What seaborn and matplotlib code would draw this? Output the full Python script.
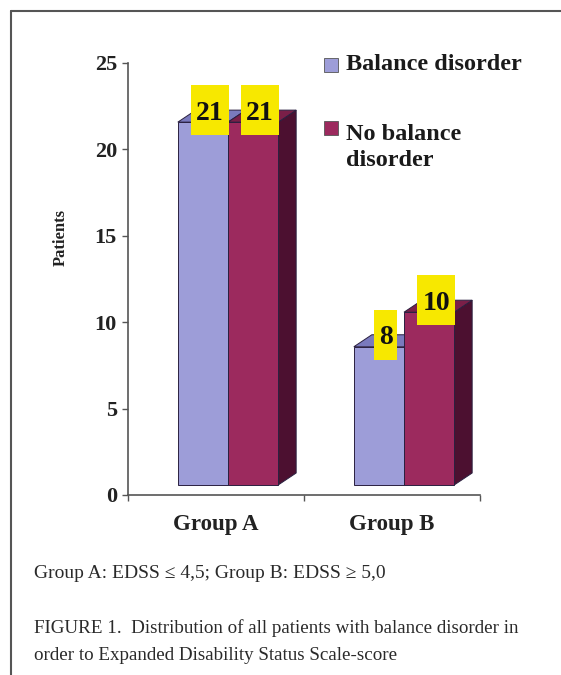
import matplotlib
matplotlib.use("Agg")
import pandas as pd
import matplotlib.pyplot as plt
import seaborn as sns
from matplotlib import transforms
from matplotlib.patches import Polygon, Rectangle

W, H, DPI = 561, 675, 100

# data
groups = ["Group A", "Group B"]
statuses = ["Balance disorder", "No balance disorder"]
balance_disorder = [21, 8]
no_balance_disorder = [21, 10]
legend_labels = ["Balance disorder", "No balance\ndisorder"]
yticks = [0, 5, 10, 15, 20, 25]
note = "Group A: EDSS \u2264 4,5; Group B: EDSS \u2265 5,0"
caption = ["FIGURE 1.  Distribution of all patients with balance disorder in",
           "order to Expanded Disability Status Scale-score"]

front_cols = ["#9d9dd8", "#9c2a5e"]
top_cols = ["#7a7abd", "#7a1f48"]
side_cols = ["#5e5e9c", "#4c1030"]

sns.set_style("white")
plt.rcParams["font.family"] = ["Liberation Serif", "DejaVu Serif"]

df = pd.DataFrame({
    "group": groups * 2,
    "status": [statuses[0]] * 2 + [statuses[1]] * 2,
    "patients": balance_disorder + no_balance_disorder,
})

def fx(px):
    return px / W

def fy(py):
    return 1 - py / H

fig = plt.figure(figsize=(W / DPI, H / DPI), dpi=DPI)
ax = fig.add_axes([fx(128), fy(495), (480 - 128) / W, (495 - 63) / H])

sns.barplot(df, x="group", y="patients", hue="status", order=groups,
            hue_order=statuses, palette=front_cols, width=0.57, saturation=1,
            edgecolor="#2a2040", linewidth=0.7, legend=False, ax=ax, zorder=3)
ax.set_xlim(-0.5, 1.5)
ax.set_ylim(0, 25)

# fake 3d: front faces shifted, depth faces behind
front = ax.transData + transforms.ScaledTranslation(12 / DPI, 10 / DPI, fig.dpi_scale_trans)
ppx = ax.transData.transform((1, 0))[0] - ax.transData.transform((0, 0))[0]
ppy = ax.transData.transform((0, 1))[1] - ax.transData.transform((0, 0))[1]
ddx, ddy = 18 / ppx, 12 / ppy

hex_front = [c.lower() for c in front_cols]
for p in list(ax.patches):
    k = hex_front.index(matplotlib.colors.to_hex(p.get_facecolor()))
    x0, w, h = p.get_x(), p.get_width(), p.get_height()
    p.set_transform(front)
    p.set_clip_on(False)
    top = Polygon([(x0, h), (x0 + w, h), (x0 + w + ddx, h + ddy), (x0 + ddx, h + ddy)],
                  closed=True, fc=top_cols[k], ec="#2a2040", lw=0.7,
                  transform=front, zorder=2, clip_on=False)
    side = Polygon([(x0 + w, 0), (x0 + w + ddx, ddy), (x0 + w + ddx, h + ddy), (x0 + w, h)],
                   closed=True, fc=side_cols[k], ec="#2a2040", lw=0.7,
                   transform=front, zorder=2, clip_on=False)
    ax.add_patch(side)
    ax.add_patch(top)

    # yellow value label
    cx = x0 + w / 2
    lab = str(int(round(h)))
    bw = 8 + 15 * len(lab)
    anchor = fig.dpi_scale_trans + transforms.ScaledTranslation(cx, h, ax.transData)
    ax.add_patch(Rectangle(((19 - bw / 2) / DPI, -3 / DPI), bw / DPI, 50 / DPI,
                           fc="#f7e800", ec="none", transform=anchor, zorder=5, clip_on=False))
    ax.annotate(lab, xy=(cx, h), xytext=(19 * 0.72, 19 * 0.72), textcoords="offset points",
                ha="center", va="center", fontsize=20, fontweight="bold", color="#111",
                zorder=6, annotation_clip=False)

# axes styling
sns.despine(ax=ax)
for s in ["left", "bottom"]:
    ax.spines[s].set_color("#555")
    ax.spines[s].set_linewidth(1.2)
ax.set_yticks(yticks)
ax.set_yticklabels([str(t) for t in yticks], fontsize=16, fontweight="bold", color="#222")
ax.tick_params(axis="y", direction="out", length=4, width=1, color="#555", pad=4, left=True)
ax.set_xticks([-0.5, 0.5, 1.5])
ax.set_xticklabels(["", "", ""])
ax.tick_params(axis="x", which="major", direction="out", length=4, width=1, color="#555", bottom=True)
ax.set_xticks([0, 1], minor=True)
ax.set_xticklabels(groups, minor=True, fontsize=16.5, fontweight="bold", color="#222")
ax.tick_params(axis="x", which="minor", length=0, pad=14)
ax.set_xlabel("")
ax.set_ylabel("Patients", fontsize=12, fontweight="bold", color="#222")
ax.yaxis.set_label_coords((69 - 128) / 352, (495 - 238) / 432)

# legend
for i, (lab, yc) in enumerate(zip(legend_labels, [65, 128])):
    fig.patches.append(Rectangle((fx(324), fy(yc + 7)), 14 / W, 14 / H, fc=front_cols[i],
                                 ec="#555", lw=0.6, transform=fig.transFigure, figure=fig))
fig.text(fx(346), fy(65), legend_labels[0], ha="left", va="center",
         fontsize=17.5, fontweight="bold", color="#1a1a1a")
fig.text(fx(346), fy(166), legend_labels[1], ha="left", va="baseline",
         fontsize=17.5, fontweight="bold", color="#1a1a1a", linespacing=1.3)

# captions
fig.text(fx(34), fy(578), note, ha="left", va="baseline", fontsize=14, color="#2a2a2a")
fig.text(fx(34), fy(633), caption[0], ha="left", va="baseline", fontsize=13.7, color="#2a2a2a")
fig.text(fx(34), fy(660), caption[1], ha="left", va="baseline", fontsize=13.7, color="#2a2a2a")

# frame lines
fig.add_artist(plt.Line2D([fx(11), fx(11)], [fy(11), 0], color="#555", lw=1.5))
fig.add_artist(plt.Line2D([fx(11), 1], [fy(11), fy(11)], color="#555", lw=1.5))

fig.savefig("out.png", dpi=DPI)
